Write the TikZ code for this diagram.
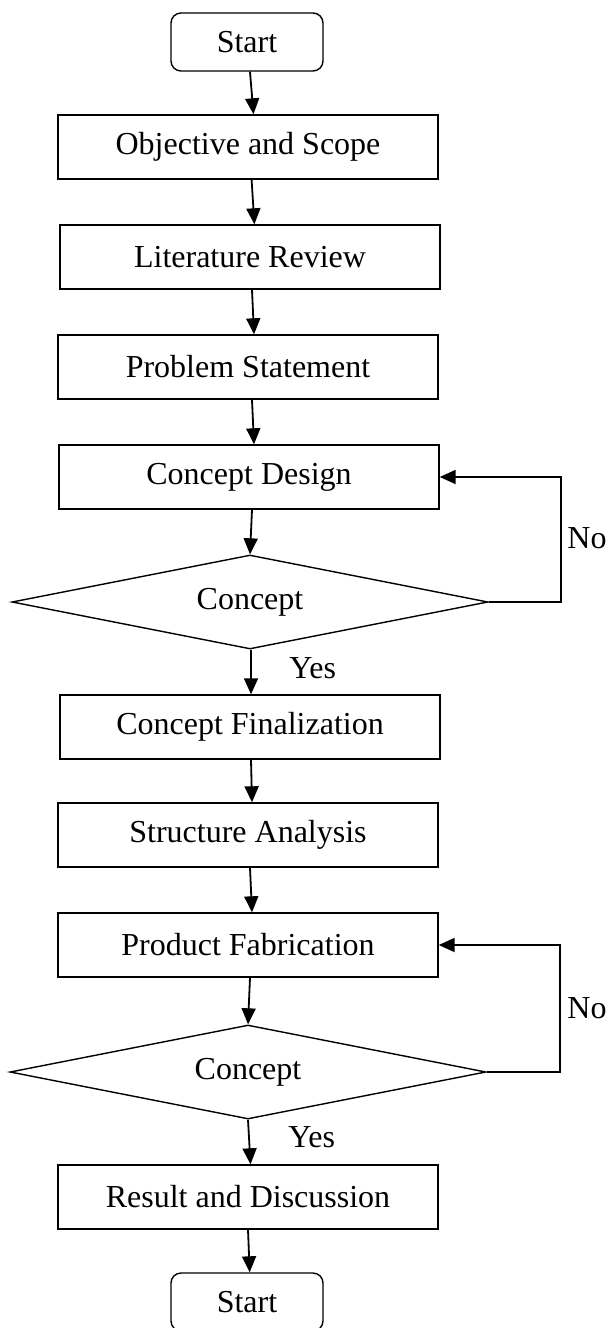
\documentclass[tikz,border=0pt]{standalone}
\usepackage{fontspec}
\setmainfont{Liberation Serif}
\usetikzlibrary{shapes.geometric,arrows.meta}
\begin{document}
\begin{tikzpicture}[x=0.5pt,y=-0.5pt,
  every node/.style={font=\fontsize{16pt}{19pt}\selectfont},
  stepbox/.style={draw,line width=0.7pt,minimum width=190pt,minimum height=32pt,inner sep=0pt},
  termbox/.style={draw,line width=0.7pt,rounded corners=5pt,minimum width=76pt,minimum height=29pt,inner sep=0pt},
  decision/.style={draw,diamond,aspect=5,line width=0.7pt,minimum width=238pt,minimum height=47pt,inner sep=0pt},
  arr/.style={line width=0.9pt,-{Triangle[length=8pt,width=7pt]}},
  lbl/.style={inner sep=0pt}
]
\useasboundingbox (0,0) rectangle (609,1328);

% main column
\node[termbox] (start)  at (247,42)   {Start};
\node[stepbox] (obj)    at (248,147)  {Objective and Scope};
\node[stepbox] (lit)    at (250,257)  {Literature Review};
\node[stepbox] (prob)   at (248,367)  {Problem Statement};
\node[stepbox] (design) at (249,477)  {Concept Design};
\node[decision] (dec1)  at (250,602)  {Concept};
\node[stepbox] (final)  at (250,727)  {Concept Finalization};
\node[stepbox] (struct) at (248,835)  {Structure Analysis};
\node[stepbox] (fab)    at (248,945)  {Product Fabrication};
\node[decision] (dec2)  at (248,1072) {Concept};
\node[stepbox] (result) at (248,1197) {Result and Discussion};
\node[termbox] (finish) at (247,1302) {Start};

% forward flow
\draw[arr] ([xshift=1.5pt]start.south) -- ([xshift=2.75pt]obj.north);
\draw[arr] ([xshift=1.8pt]obj.south)   -- ([xshift=2.2pt]lit.north);
\draw[arr] ([xshift=1pt]lit.south)     -- ([xshift=3pt]prob.north);
\draw[arr] ([xshift=2pt]prob.south)    -- ([xshift=2.5pt]design.north);
\draw[arr] ([xshift=1.5pt]design.south) -- (dec1.north);
\draw[arr] ([xshift=0.5pt]dec1.south)  -- ([xshift=0.5pt]final.north);
\draw[arr] ([xshift=0.5pt]final.south) -- ([xshift=2pt]struct.north);
\draw[arr] ([xshift=1pt]struct.south)  -- ([xshift=2pt]fab.north);
\draw[arr] ([xshift=1pt]fab.south)     -- (dec2.north);
\draw[arr] (dec2.south)                -- ([xshift=1.25pt]result.north);
\draw[arr] (result.south)              -- ([xshift=1.35pt]finish.north);

% feedback loops
\draw[arr] (dec1.east) -- ++(72,0) |- (design.east);
\draw[arr] (dec2.east) -- ++(73,0) |- (fab.east);

% branch labels
\node[lbl,anchor=base west] (yes1) at (289,678)  {Yes};
\node[lbl,anchor=base west] (no1)  at (567,548)  {No};
\node[lbl,anchor=base west] (yes2) at (288,1147) {Yes};
\node[lbl,anchor=base west] (no2)  at (567,1018) {No};
\end{tikzpicture}
\end{document}
